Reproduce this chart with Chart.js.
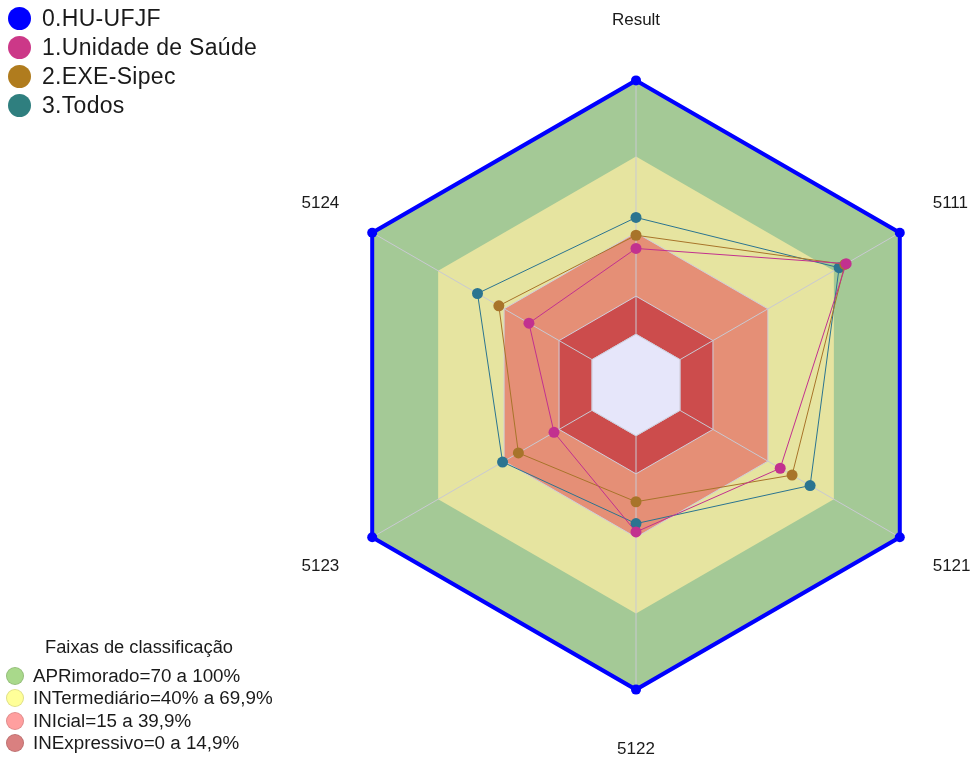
<!DOCTYPE html>
<html>
<head>
<meta charset="utf-8">
<script src="https://cdn.jsdelivr.net/npm/chart.js@4.4.0/dist/chart.umd.min.js"></script>
<style>
    body { margin: 0; background: #fff; font-family: "Liberation Sans", Arial, sans-serif; color: #1a1a1a; }
    #wrap { position: relative; width: 974px; height: 760px; overflow: hidden; }
    #chart { position: absolute; left: 0; top: 0; }
    .legend { position: absolute; }
    .row { display: flex; align-items: center; white-space: nowrap; }
    .dot { border-radius: 50%; flex: none; box-sizing: border-box; }
    #seriesLegend { left: 8px; top: 4.6px; font-size: 23px; letter-spacing: 0.3px; }
    #seriesLegend .row { height: 28.7px; }
    #seriesLegend .dot { width: 23px; height: 23px; margin-right: 11px; }
    #bandLegend { left: 6px; top: 636px; font-size: 18.8px; }
    #bandLegend .title { width: 266px; text-align: center; height: 22px; line-height: 22px; margin-bottom: 7px; font-size: 18.3px; }
    #bandLegend .row { height: 22.3px; }
    #bandLegend .dot { width: 18px; height: 18px; margin-right: 9px; border: 1px solid rgba(0,0,0,0.12); }
</style>
</head>
<body>
<div id="wrap">
    <canvas id="chart" width="974" height="760"></canvas>
    <div id="seriesLegend" class="legend"></div>
    <div id="bandLegend" class="legend"></div>
</div>
<script>
// --- data ---
const axisLabels = ['Result', '5111', '5121', '5122', '5123', '5124'];
const seriesNames = ['0.HU-UFJF', '1.Unidade de Saúde', '2.EXE-Sipec', '3.Todos'];
const huUfjf = [100, 100, 100, 100, 100, 100];
const unidadeSaude = [33.8, 75.6, 45.6, 37.9, 17.3, 28.7];
const exeSipec = [39.0, 75.0, 51.0, 26.0, 33.5, 42.4];
const todos = [46.0, 72.4, 59.2, 34.6, 40.7, 52.1];
const bandLimits = [0, 15, 40, 70, 100];
const bandLegendTitle = 'Faixas de classificação';
const bandNames = ['APRimorado=70 a 100%', 'INTermediário=40% a 69,9%', 'INIcial=15 a 39,9%', 'INExpressivo=0 a 14,9%'];
const scaleMin = -20;
const scaleMax = 100;

// --- styles ---
const seriesColors = ['#0000ff', '#c2318f', '#a8742a', '#2b7490'];
const seriesLegendColors = ['#0000ff', '#cc3888', '#b07c1e', '#2f7f7f'];
const bandFills = ['#e6e6fa', '#cc4c4c', '#e58f76', '#e6e4a0', '#a4c996'];
const bandLegendColors = ['#a9d98b', '#ffff99', '#ff9f9f', '#d98080'];
const gridColor = '#cfcfdc';

const seriesData = [huUfjf, unidadeSaude, exeSipec, todos];

// series first (index 0 drawn on top), then bands from smallest to largest
const datasets = seriesData.map((values, i) => ({
    label: seriesNames[i],
    data: values,
    borderColor: seriesColors[i],
    backgroundColor: seriesColors[i],
    pointBackgroundColor: seriesColors[i],
    pointBorderWidth: 0,
    pointRadius: i === 0 ? 5 : 5.5,
    borderWidth: i === 0 ? 4 : 1,
    fill: false
}));
bandLimits.forEach((limit, i) => {
    datasets.push({
        label: 'band ' + limit,
        data: axisLabels.map(() => limit),
        backgroundColor: bandFills[i],
        borderColor: gridColor,
        borderWidth: i === 0 ? 1 : 0,
        pointRadius: 0,
        fill: 'start'
    });
});

// redraw the grid over the band fills, right after the 15 band (before the centre band)
let regridding = false;
const gridOverBands = {
    id: 'gridOverBands',
    afterDatasetDraw(chart, args) {
        if (args.index !== seriesData.length + 1) return;
        regridding = true;
        chart.scales.r.drawGrid();
        regridding = false;
    }
};

new Chart(document.getElementById('chart'), {
    type: 'radar',
    data: { labels: axisLabels, datasets: datasets },
    plugins: [gridOverBands],
    options: {
        responsive: false,
        animation: false,
        events: [],
        layout: { padding: { left: 298, right: 0, top: 10, bottom: 0 } },
        elements: { line: { tension: 0 } },
        plugins: {
            legend: { display: false },
            tooltip: { enabled: false }
        },
        scales: {
            r: {
                min: scaleMin,
                max: scaleMax,
                afterBuildTicks: scale => {
                    scale.ticks = [scaleMin].concat(bandLimits).map(v => ({ value: v }));
                },
                ticks: { display: false },
                grid: {
                    color: ctx => (ctx.tick && ctx.tick.value === 70) ? 'rgba(0,0,0,0)' : gridColor,
                    lineWidth: 1
                },
                angleLines: { color: '#c9c9d2', lineWidth: 1 },
                pointLabels: {
                    color: () => regridding ? 'rgba(0,0,0,0)' : '#1a1a1a',
                    font: { size: 17, family: '"Liberation Sans", Arial, sans-serif' },
                    padding: ctx => (ctx.index === 0 || ctx.index === 3) ? 50 : 38
                }
            }
        }
    }
});

// --- html legends ---
const seriesLegend = document.getElementById('seriesLegend');
seriesNames.forEach((name, i) => {
    const row = document.createElement('div');
    row.className = 'row';
    row.innerHTML = '<span class="dot" style="background:' + seriesLegendColors[i] + '"></span><span>' + name + '</span>';
    seriesLegend.appendChild(row);
});

const bandLegend = document.getElementById('bandLegend');
const title = document.createElement('div');
title.className = 'title';
title.textContent = bandLegendTitle;
bandLegend.appendChild(title);
bandNames.forEach((name, i) => {
    const row = document.createElement('div');
    row.className = 'row';
    row.innerHTML = '<span class="dot" style="background:' + bandLegendColors[i] + '"></span><span>' + name + '</span>';
    bandLegend.appendChild(row);
});
</script>
</body>
</html>
